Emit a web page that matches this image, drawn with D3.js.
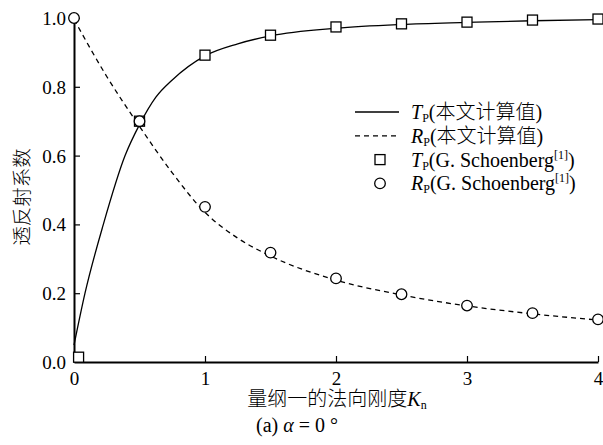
<!DOCTYPE html>
<html>
<head>
<meta charset="utf-8">
<script src="https://cdn.jsdelivr.net/npm/d3@7"></script>
<style>
  html, body { margin: 0; padding: 0; background: #fff; }
  svg text { font-family: "Liberation Serif", "Times New Roman", "Noto Sans CJK SC", serif; fill: #000; }
  .cjk { font-family: "Noto Sans CJK SC", sans-serif; font-weight: 300; }
</style>
</head>
<body>
<svg id="chart" width="603" height="445"></svg>
<script>
// Computed transmission / reflection curves (K_n, value)
const tCurveK = [0, 0.084, 0.224, 0.39, 0.5, 0.625, 0.75, 1.0, 1.25, 1.5, 2.0, 2.5, 3.0, 3.5, 4.0];
const tCurveV = [0.049, 0.2, 0.4, 0.6, 0.69, 0.77, 0.82, 0.89, 0.925, 0.948, 0.97, 0.981, 0.987, 0.992, 0.995];
const rCurveK = [0, 0.25, 0.5, 0.75, 1.0, 1.25, 1.5, 2.0, 2.5, 3.0, 3.5, 4.0];
const rCurveV = [0.996, 0.83, 0.685, 0.55, 0.435, 0.36, 0.308, 0.238, 0.195, 0.163, 0.14, 0.122];

// Reference points (G. Schoenberg)
const tRefK = [0.035, 0.5, 1.0, 1.5, 2.0, 2.5, 3.0, 3.5, 4.0];
const tRefV = [0.014, 0.70, 0.892, 0.95, 0.974, 0.983, 0.988, 0.994, 0.997];
const rRefK = [0, 0.5, 1.0, 1.5, 2.0, 2.5, 3.0, 3.5, 4.0];
const rRefV = [1.0, 0.70, 0.451, 0.318, 0.243, 0.197, 0.164, 0.142, 0.124];

const xTicks = [0, 1, 2, 3, 4];
const yTicks = [0, 0.2, 0.4, 0.6, 0.8, 1.0];

const serif = '"Liberation Serif", "Times New Roman", serif';

const svg = d3.select("#chart");
const plotLeft = 74, plotRight = 598, plotTop = 18, plotBottom = 362;

const x = d3.scaleLinear().domain([0, 4]).range([plotLeft, plotRight]);
const y = d3.scaleLinear().domain([0, 1]).range([plotBottom, plotTop]);

const zip = (ks, vs) => ks.map((k, i) => [k, vs[i]]);

const line = d3.line()
  .x(d => x(d[0]))
  .y(d => y(d[1]))
  .curve(d3.curveMonotoneX);

// Curves
svg.append("path")
  .attr("d", line(zip(tCurveK, tCurveV)))
  .attr("fill", "none").attr("stroke", "#000").attr("stroke-width", 1.3);

svg.append("path")
  .attr("d", line(zip(rCurveK, rCurveV)))
  .attr("fill", "none").attr("stroke", "#000").attr("stroke-width", 1.3)
  .attr("stroke-dasharray", "5,4");

// Axes (ticks pointing inward)
const yAxis = d3.axisLeft(y).tickValues(yTicks).tickFormat(d3.format(".1f"))
  .tickSizeInner(-6).tickSizeOuter(0).tickPadding(8);
const xAxis = d3.axisBottom(x).tickValues(xTicks).tickFormat(d3.format("d"))
  .tickSizeInner(-6).tickSizeOuter(0).tickPadding(6);

const gy = svg.append("g").attr("transform", `translate(${plotLeft},0)`).call(yAxis);
const gx = svg.append("g").attr("transform", `translate(0,${plotBottom})`).call(xAxis);

[gx, gy].forEach(g => {
  g.select(".domain").attr("stroke", "#000").attr("stroke-width", 2);
  g.selectAll(".tick line").attr("stroke", "#000").attr("stroke-width", 1.2);
  g.selectAll(".tick text")
    .style("font-family", serif)
    .style("font-size", "19px");
});
gx.selectAll(".tick").filter(d => d === 0).select("line").remove();
gy.selectAll(".tick").filter(d => d === 0).select("line").remove();
gx.selectAll(".tick text").attr("dy", "0.9em");
gy.selectAll(".tick text").attr("dy", "0.34em");

// Markers
const sq = 10;
svg.append("g").selectAll("rect")
  .data(zip(tRefK, tRefV)).join("rect")
  .attr("x", d => x(d[0]) - sq / 2)
  .attr("y", d => y(d[1]) - sq / 2)
  .attr("width", sq).attr("height", sq)
  .attr("fill", "#fff").attr("stroke", "#000").attr("stroke-width", 1.3);

svg.append("g").selectAll("circle")
  .data(zip(rRefK, rRefV)).join("circle")
  .attr("cx", d => x(d[0]))
  .attr("cy", d => y(d[1]))
  .attr("r", 5.3)
  .attr("fill", "#fff").attr("stroke", "#000").attr("stroke-width", 1.3);

// Axis titles
svg.append("text")
  .attr("class", "cjk")
  .attr("transform", "translate(20,197) rotate(-90)")
  .attr("text-anchor", "middle")
  .attr("dominant-baseline", "central")
  .style("font-size", "19.5px")
  .text("透反射系数");

const xt = svg.append("text")
  .attr("x", 337).attr("y", 406)
  .attr("text-anchor", "middle")
  .style("font-size", "20px");
xt.append("tspan").attr("class", "cjk").text("量纲一的法向刚度");
xt.append("tspan").style("font-family", serif).style("font-style", "italic").text("K");
xt.append("tspan").style("font-family", serif).style("font-size", "12px").attr("dy", 3).text("n");

const cap = svg.append("text")
  .attr("x", 297).attr("y", 432)
  .attr("text-anchor", "middle")
  .style("font-family", serif)
  .style("font-size", "20px");
cap.append("tspan").text("(a) ");
cap.append("tspan").style("font-style", "italic").text("α");
cap.append("tspan").text(" = 0 °");

// Legend
const legend = svg.append("g");
const rows = [
  { kind: "solid", sym: "T", tail: "本文计算值", ref: false },
  { kind: "dash", sym: "R", tail: "本文计算值", ref: false },
  { kind: "square", sym: "T", tail: "G. Schoenberg", ref: true },
  { kind: "circle", sym: "R", tail: "G. Schoenberg", ref: true }
];
const ly0 = 112, lyStep = 23.8;
rows.forEach((r, i) => {
  const cy = ly0 + i * lyStep;
  if (r.kind === "solid" || r.kind === "dash") {
    legend.append("line")
      .attr("x1", 355).attr("x2", 399).attr("y1", cy).attr("y2", cy)
      .attr("stroke", "#000").attr("stroke-width", 1.3)
      .attr("stroke-dasharray", r.kind === "dash" ? "5,4" : null);
  } else if (r.kind === "square") {
    legend.append("rect")
      .attr("x", 380 - 5).attr("y", cy - 5).attr("width", 10).attr("height", 10)
      .attr("fill", "#fff").attr("stroke", "#000").attr("stroke-width", 1.3);
  } else {
    legend.append("circle")
      .attr("cx", 380).attr("cy", cy).attr("r", 5.3)
      .attr("fill", "#fff").attr("stroke", "#000").attr("stroke-width", 1.3);
  }
  const t = legend.append("text")
    .attr("x", 411).attr("y", cy + 7)
    .style("font-family", serif)
    .style("font-size", "20px");
  t.append("tspan").style("font-style", "italic").text(r.sym);
  t.append("tspan").style("font-size", "12px").attr("dy", 3).text("P");
  t.append("tspan").attr("dy", -3).text("(");
  t.append("tspan").attr("class", r.ref ? null : "cjk").text(r.tail);
  if (r.ref) {
    t.append("tspan").style("font-size", "12px").attr("dy", -8).text("[1]");
    t.append("tspan").attr("dy", 8).text(")");
  } else {
    t.append("tspan").text(")");
  }
});
</script>
</body>
</html>
